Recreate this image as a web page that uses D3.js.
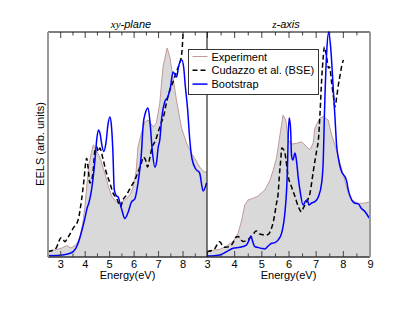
<!DOCTYPE html>
<html>
<head>
<meta charset="utf-8">
<script src="https://cdn.jsdelivr.net/npm/d3@7"></script>
<style>
  body { margin: 0; background: #fff; }
  text { font-family: "Liberation Sans", Arial, sans-serif; }
</style>
</head>
<body>
<div class="chart"></div>
<script>
// energy (eV), EELS (arb. units, 0-100)
var xyExperiment = [[2.5,2.7],[2.78,3.1],[3.07,4.0],[3.26,5.1],[3.44,4.0],[3.64,5.3],[3.8,8.4],[3.93,15.6],[4.01,22.2],
  [4.09,32],[4.17,40.9],[4.27,46.2],[4.35,49.8],[4.42,48.4],[4.5,46.7],[4.58,45.3],[4.66,43.1],[4.82,37.3],[4.95,32],
  [5.1,27.1],[5.23,25.3],[5.31,24.4],[5.44,24],[5.64,25.3],[5.85,27.6],[5.97,30.7],[6.1,37.8],[6.18,48.9],[6.32,55.1],
  [6.46,60],[6.59,60.9],[6.8,57.8],[6.93,59.6],[7.07,68.4],[7.2,84.4],[7.37,92.9],[7.48,88.9],[7.61,80],[7.75,69.8],
  [7.96,57.3],[8.16,50.7],[8.36,46.2],[8.54,43.1],[8.7,40],[8.87,37.8],[9.0,37.8]];
var xyCudazzo = [[2.5,2.4],[2.71,3.1],[2.85,4.3],[2.95,7.1],[3.03,8.6],[3.11,8],[3.19,6.8],[3.33,9],[3.53,12.8],[3.73,16.4],
  [3.87,25.3],[3.97,34.2],[4.04,41.8],[4.08,43.9],[4.14,39.6],[4.21,32.9],[4.29,34.2],[4.35,38.7],[4.42,47.6],[4.5,48.9],
  [4.55,46.8],[4.62,48.4],[4.74,44],[4.89,37.3],[5.03,32.9],[5.16,28.4],[5.3,26.2],[5.47,22.4],[5.56,25.3],[5.71,27.6],
  [5.91,31.6],[6.05,34.2],[6.18,37.8],[6.32,41.8],[6.39,44.4],[6.49,43.1],[6.57,40],[6.66,44],[6.76,48.9],[6.87,51.2],
  [6.93,52.9],[7.03,56.4],[7.14,60],[7.21,61.8],[7.34,68.4],[7.48,74.2],[7.61,77.8],[7.75,82.2],[7.88,86.2],[7.96,89.8],
  [8.0,95.1],[8.02,100]];
var xyBootstrap = [[2.5,0.6],[2.99,0.8],[3.26,1.2],[3.53,2.4],[3.73,6.1],[3.87,11.2],[4.01,17.3],[4.1,21.8],[4.17,24],
  [4.28,29.8],[4.42,43.1],[4.49,52],[4.56,56.4],[4.64,54.2],[4.7,49.8],[4.78,46.9],[4.87,50.7],[4.95,58.7],[5.03,62.2],
  [5.09,58.7],[5.15,47.6],[5.21,29.8],[5.3,27.1],[5.37,26.7],[5.44,24],[5.52,20.9],[5.64,17.1],[5.78,20],[5.91,24.4],
  [6.05,25.8],[6.18,32.9],[6.25,38.7],[6.32,46.2],[6.39,58.7],[6.48,64],[6.59,66.2],[6.68,58.7],[6.76,47.6],[6.87,40],
  [6.95,43.1],[7.0,48.4],[7.07,52],[7.15,62],[7.27,68.9],[7.41,71.5],[7.5,75],[7.61,82.2],[7.7,80.9],[7.76,80],
  [7.84,84.9],[7.97,87.6],[8.05,84],[8.11,76.4],[8.21,65.3],[8.29,52.9],[8.38,44],[8.54,39.1],[8.7,37.3],[8.84,29.3],
  [8.98,32.9]];

var zExperiment = [[3.0,2.4],[3.28,3.1],[3.47,3.4],[3.72,4.9],[3.96,6.8],[4.14,10.5],[4.27,16],[4.39,23.1],[4.51,25.3],
  [4.7,26.1],[4.88,27.1],[5.13,29.8],[5.32,34.2],[5.44,38.7],[5.56,44],[5.68,53.8],[5.8,63.1],[5.9,60.9],[5.99,52],
  [6.11,50.2],[6.3,50.5],[6.48,51.2],[6.67,49],[6.79,47.6],[6.91,50.7],[6.97,57.3],[7.16,61.8],[7.28,62.4],[7.46,60.9],
  [7.59,54.2],[7.71,49.8],[7.83,44.4],[8.02,36.4],[8.2,28.4],[8.33,25.3],[8.57,23.9],[8.82,23.9],[9.0,24.6]];
var zCudazzo = [[3.0,2.4],[3.17,2.9],[3.28,3.6],[3.41,6.2],[3.47,6.8],[3.59,4.7],[3.69,4.3],[3.9,5.3],[4.08,8.9],[4.14,9.1],
  [4.33,6.9],[4.51,7.8],[4.69,9.8],[4.8,11.6],[4.88,11.3],[4.94,10.2],[5.13,9.8],[5.25,10],[5.35,12],[5.44,15.6],[5.56,24],
  [5.62,28.4],[5.66,35.6],[5.72,44],[5.75,48.4],[5.8,48],[5.87,46.1],[5.99,35.7],[6.11,31.2],[6.24,26.8],[6.36,22.4],
  [6.48,20.1],[6.54,21.6],[6.67,24.6],[6.79,28.3],[6.91,37.9],[7.04,47.6],[7.1,52],[7.16,63.9],[7.22,78.7],[7.28,89],
  [7.32,93.3],[7.41,88.4],[7.47,84],[7.51,84.4],[7.59,77.3],[7.65,71.6],[7.71,66.8],[7.77,70.7],[7.83,76],[7.9,80.9],
  [7.96,84.9],[8.02,87.6]];
var zBootstrap = [[3.0,0.4],[3.28,0.6],[3.47,0.9],[3.72,2.4],[3.96,3.9],[4.21,4.3],[4.45,5.3],[4.55,7.6],[4.61,9.3],[4.7,6.2],
  [4.76,4.6],[4.88,4.2],[5.02,3.8],[5.13,3.6],[5.25,4.9],[5.38,6.1],[5.5,6.4],[5.62,7.6],[5.75,10.7],[5.87,20],[5.93,29.8],
  [5.96,38.7],[5.99,54.2],[6.03,61.8],[6.08,56.4],[6.11,45.3],[6.16,43.1],[6.24,46.2],[6.3,42.2],[6.36,35.1],[6.42,29.8],
  [6.54,23.1],[6.63,24.9],[6.7,25.3],[6.75,23.1],[6.85,24],[6.97,24.6],[7.1,26.8],[7.22,32.9],[7.28,43.1],[7.32,62.2],
  [7.41,92],[7.48,100],[7.56,92],[7.65,74.2],[7.71,62.2],[7.77,49.8],[7.83,44.4],[7.9,40.1],[7.96,37.8],[8.08,35.6],
  [8.14,33.8],[8.2,29.8],[8.33,25.3],[8.45,23.9],[8.57,23.6],[8.67,21.8],[8.82,20.1],[8.94,17.9],[9.0,16.8]];

var leftMajor = [3, 4, 5, 6, 7, 8];
var leftMinor = [3.5, 4.5, 5.5, 6.5, 7.5, 8.5];
var rightMajor = [3, 4, 5, 6, 7, 8, 9];
var rightMinor = [3.5, 4.5, 5.5, 6.5, 7.5, 8.5];
var legendNames = ['Experiment', 'Cudazzo et al. (BSE)', 'Bootstrap'];

var W = 415, H = 321;
var plotTop = 32, plotBottom = 257;
var plotLeft = 48, plotMid = 207, plotRight = 370;

var svg = d3.select('.chart').append('svg')
    .attr('width', W)
    .attr('height', H);

var y = d3.scaleLinear().domain([0, 100]).range([plotBottom, plotTop]);

var panels = [
    {id: 'xy', x: d3.scaleLinear().domain([2.5, 9]).range([plotLeft, plotMid]),
     major: leftMajor, minor: leftMinor, exp: xyExperiment, bse: xyCudazzo, boot: xyBootstrap},
    {id: 'z', x: d3.scaleLinear().domain([3, 9]).range([plotMid, plotRight]),
     major: rightMajor, minor: rightMinor, exp: zExperiment, bse: zCudazzo, boot: zBootstrap}
];

var defs = svg.append('defs');

panels.forEach(function(p) {
    var x0 = p.x.range()[0], x1 = p.x.range()[1];
    defs.append('clipPath').attr('id', 'clip-' + p.id)
      .append('rect')
        .attr('x', x0).attr('y', plotTop - 1)
        .attr('width', x1 - x0).attr('height', plotBottom - plotTop + 1);

    var g = svg.append('g').attr('clip-path', 'url(#clip-' + p.id + ')');

    var area = d3.area()
        .x(d => p.x(d[0]))
        .y0(y(0))
        .y1(d => y(d[1]));
    var lin = d3.line()
        .x(d => p.x(d[0]))
        .y(d => y(d[1]));
    var smooth = d3.line()
        .x(d => p.x(d[0]))
        .y(d => y(d[1]))
        .curve(d3.curveMonotoneX);

    g.append('path')
        .attr('d', area(p.exp))
        .attr('fill', '#d9d9d9');
    g.append('path')
        .attr('d', lin(p.exp))
        .attr('fill', 'none')
        .attr('stroke', '#c09a9a')
        .attr('stroke-width', 1);
    g.append('path')
        .attr('d', smooth(p.bse))
        .attr('fill', 'none')
        .attr('stroke', '#000')
        .attr('stroke-width', 1.5)
        .attr('stroke-dasharray', '5,3');
    g.append('path')
        .attr('d', smooth(p.boot))
        .attr('fill', 'none')
        .attr('stroke', '#0000ff')
        .attr('stroke-width', 1.5);

    // ticks, pointing inward
    var bot = svg.append('g').attr('transform', `translate(0,${plotBottom})`)
        .call(d3.axisBottom(p.x).tickValues(p.major).tickSizeInner(-6).tickSizeOuter(0).tickPadding(3)
            .tickFormat(d3.format('d')));
    svg.append('g').attr('transform', `translate(0,${plotBottom})`)
        .call(d3.axisBottom(p.x).tickValues(p.minor).tickSizeInner(-3.5).tickSizeOuter(0).tickFormat(''));
    svg.append('g').attr('transform', `translate(0,${plotTop})`)
        .call(d3.axisTop(p.x).tickValues(p.major).tickSizeInner(-6).tickSizeOuter(0).tickFormat(''));
    svg.append('g').attr('transform', `translate(0,${plotTop})`)
        .call(d3.axisTop(p.x).tickValues(p.minor).tickSizeInner(-3.5).tickSizeOuter(0).tickFormat(''));

    svg.selectAll('.domain').remove();
    svg.selectAll('.tick line').attr('stroke', '#444');
    bot.selectAll('text')
        .attr('font-size', 11)
        .attr('fill', '#000')
        .style('font-family', '"Liberation Sans", Arial, sans-serif');

    svg.append('text')
        .attr('x', (x0 + x1) / 2)
        .attr('y', 278.5)
        .attr('text-anchor', 'middle')
        .attr('font-size', 11)
        .text('Energy(eV)');
});

// frame
svg.append('line').attr('x1', plotLeft).attr('x2', plotRight).attr('y1', plotTop).attr('y2', plotTop)
    .attr('stroke', '#000').attr('stroke-width', 1);
svg.append('line').attr('x1', plotLeft).attr('x2', plotRight).attr('y1', plotBottom).attr('y2', plotBottom)
    .attr('stroke', '#333').attr('stroke-width', 1.5);
svg.append('line').attr('x1', plotLeft).attr('x2', plotLeft).attr('y1', plotTop).attr('y2', plotBottom)
    .attr('stroke', '#999').attr('stroke-width', 2);
svg.append('line').attr('x1', plotRight).attr('x2', plotRight).attr('y1', plotTop).attr('y2', plotBottom)
    .attr('stroke', '#999').attr('stroke-width', 2);
svg.append('line').attr('x1', plotMid).attr('x2', plotMid).attr('y1', plotTop).attr('y2', plotBottom)
    .attr('stroke', '#000').attr('stroke-width', 1);

// titles
var t1 = svg.append('text').attr('x', 131).attr('y', 28).attr('text-anchor', 'middle')
    .attr('font-size', 11).attr('font-style', 'italic');
t1.append('tspan').style('font-family', '"Liberation Serif", serif').text('xy');
t1.append('tspan').text('-plane');
var t2 = svg.append('text').attr('x', 286).attr('y', 28).attr('text-anchor', 'middle')
    .attr('font-size', 11).attr('font-style', 'italic');
t2.append('tspan').style('font-family', '"Liberation Serif", serif').text('z');
t2.append('tspan').text('-axis');

svg.append('text')
    .attr('transform', 'translate(44,144) rotate(-90)')
    .attr('text-anchor', 'middle')
    .attr('font-size', 11)
    .text('EELS (arb. units)');

// legend
var lg = svg.append('g');
lg.append('rect')
    .attr('x', 188.5).attr('y', 49.5)
    .attr('width', 130).attr('height', 45)
    .attr('fill', '#fff')
    .attr('stroke', '#333')
    .attr('stroke-width', 1);
var legendStyles = [
    {stroke: '#c09a9a', dash: null},
    {stroke: '#000', dash: '5,3'},
    {stroke: '#0000ff', dash: null}
];
legendNames.forEach(function(name, i) {
    var yy = 56.5 + i * 13.8;
    lg.append('line')
        .attr('x1', 192.5).attr('x2', 207.5)
        .attr('y1', yy).attr('y2', yy)
        .attr('stroke', legendStyles[i].stroke)
        .attr('stroke-width', i === 0 ? 1 : 1.5)
        .attr('stroke-dasharray', legendStyles[i].dash);
    lg.append('text')
        .attr('x', 211.5).attr('y', yy + 4)
        .attr('font-size', 11)
        .text(name);
});
</script>
</body>
</html>
